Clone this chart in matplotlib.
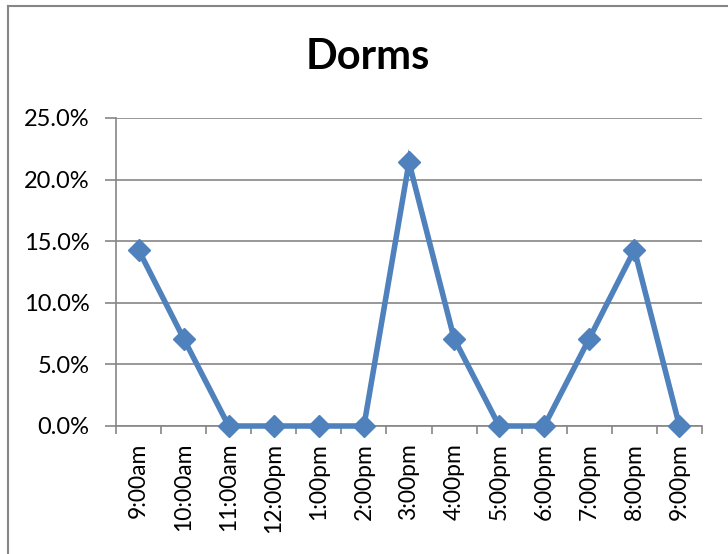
import matplotlib
matplotlib.use('Agg')
import matplotlib.pyplot as plt
from matplotlib.lines import Line2D
from matplotlib.ticker import PercentFormatter

times = ['9:00am', '10:00am', '11:00am', '12:00pm', '1:00pm', '2:00pm',
         '3:00pm', '4:00pm', '5:00pm', '6:00pm', '7:00pm', '8:00pm', '9:00pm']
share = [14.3, 7.1, 0.0, 0.0, 0.0, 0.0, 21.4, 7.1, 0.0, 0.0, 7.1, 14.3, 0.0]
y_ticks = [0, 5, 10, 15, 20, 25]

plt.rcParams['font.family'] = ['Lato', 'DejaVu Sans']
grey = '#868686'
blue = '#4F81BD'

fig = plt.figure(figsize=(7.28, 5.54), dpi=100)
ax = fig.add_axes([116 / 728, 1 - 426 / 554, 586 / 728, 308 / 554])

x = list(range(len(times)))
ax.plot(x, share, color=blue, lw=4, marker='D', ms=11,
        mfc=blue, mec=blue, solid_joinstyle='miter', clip_on=False, zorder=3)

ax.set_xlim(-0.5, len(times) - 0.5)
ax.set_ylim(0, 25)
ax.set_yticks(y_ticks)
ax.yaxis.set_major_formatter(PercentFormatter(decimals=1))
ax.grid(axis='y', color=grey, lw=1.2)
ax.set_axisbelow(True)

ax.set_xticks(x)
ax.set_xticklabels(times, rotation=90, va='top', ha='center')
ax.set_xticks([i - 0.5 for i in range(len(times) + 1)], minor=True)
ax.tick_params(axis='x', which='major', length=0, pad=12, labelsize=16.5)
ax.tick_params(axis='x', which='minor', length=6, width=1.2, color=grey,
               direction='out')
ax.tick_params(axis='y', length=8, width=1.2, color=grey, pad=11,
               labelsize=17)

for side in ['top', 'right']:
    ax.spines[side].set_visible(False)
for side in ['left', 'bottom']:
    ax.spines[side].set_color(grey)
    ax.spines[side].set_linewidth(1.2)

fig.text(368 / 728, 1 - 57 / 554, 'Dorms', ha='center', va='center',
         fontsize=30, fontweight='bold')

# outer chart border (only left and top visible in the crop)
fig.add_artist(Line2D([8 / 728, 8 / 728], [0, 1 - 6 / 554],
                      transform=fig.transFigure, color=grey, lw=1.5))
fig.add_artist(Line2D([8 / 728, 1], [1 - 6 / 554, 1 - 6 / 554],
                      transform=fig.transFigure, color=grey, lw=1.5))

fig.savefig('out.png', dpi=100)
